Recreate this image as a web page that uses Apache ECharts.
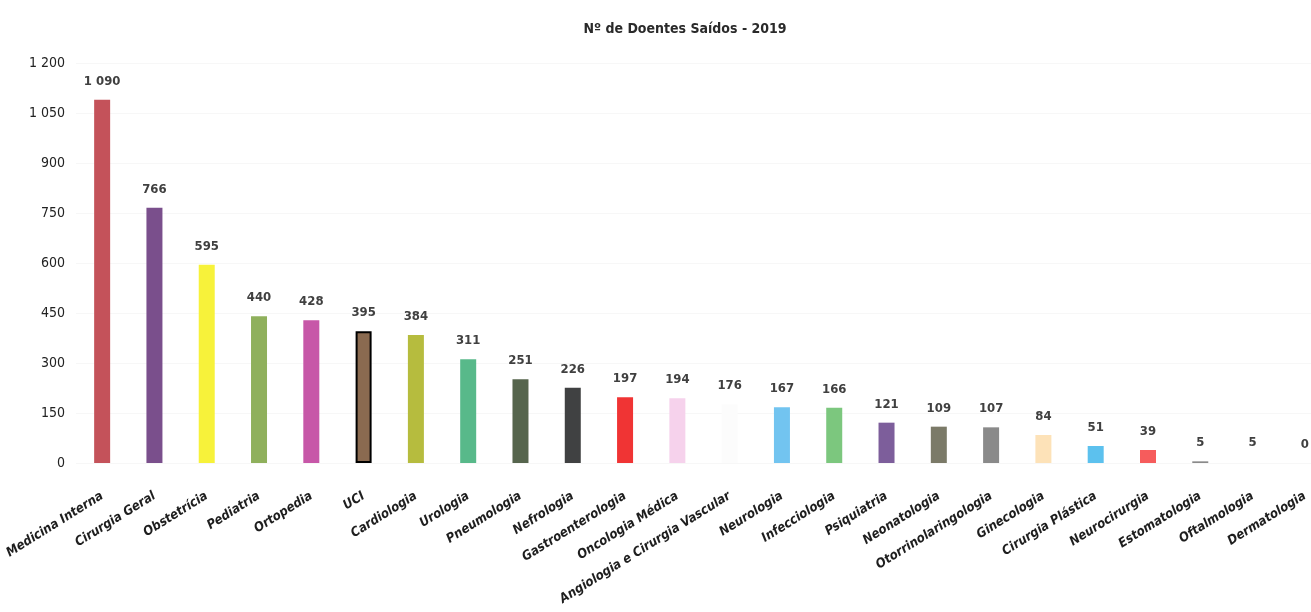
<!DOCTYPE html>
<html>
<head>
<meta charset="utf-8">
<script src="https://cdn.jsdelivr.net/npm/echarts@6/dist/echarts.min.js"></script>
<style>
  html, body { margin: 0; padding: 0; background: #fff; overflow: hidden; }
  #chart { width: 1311px; height: 612px; }
</style>
</head>
<body>
<div id="chart"></div>
<script>
const categories = [
  'Medicina Interna', 'Cirurgia Geral', 'Obstetrícia', 'Pediatria', 'Ortopedia', 'UCI',
  'Cardiologia', 'Urologia', 'Pneumologia', 'Nefrologia', 'Gastroenterologia', 'Oncologia Médica',
  'Angiologia e Cirurgia Vascular', 'Neurologia', 'Infecciologia', 'Psiquiatria', 'Neonatologia',
  'Otorrinolaringologia', 'Ginecologia', 'Cirurgia Plástica', 'Neurocirurgia', 'Estomatologia',
  'Oftalmologia', 'Dermatologia'
];
const values = [1090, 766, 595, 440, 428, 395, 384, 311, 251, 226, 197, 194, 176, 167, 166, 121, 109, 107, 84, 51, 39, 5, 5, 0];
const barColors = [
  '#c4525a', '#7a4f8c', '#f7f23a', '#8fb05c', '#c757a8', '#8a6a50',
  '#b6bc3e', '#58b98a', '#56654d', '#404142', '#f03434', '#f6d2ec',
  '#fcfcfc', '#72c4f0', '#7cc77e', '#7d5e9b', '#7b7a68',
  '#8a8a8a', '#fde2b8', '#5cc1ee', '#f65c5c', '#8a8a8a',
  '#ffffff', '#ffffff'
];
const yTicks = [0, 150, 300, 450, 600, 750, 900, 1050, 1200];

const fontFamily = '"Liberation Sans Narrow", "DejaVu Sans Condensed", Arial, sans-serif';
const fmt = (v) => String(v).replace(/\B(?=(\d{3})+(?!\d))/g, ' ');

const chart = echarts.init(document.getElementById('chart'));

chart.setOption({
  backgroundColor: '#fff',
  title: {
    text: 'Nº de Doentes Saídos - 2019',
    left: 680,
    textAlign: 'center',
    top: 17,
    textStyle: { fontFamily, fontSize: 14, fontWeight: 'bold', color: '#2a2a2a' }
  },
  grid: {
    left: 76, top: 63, width: 1255, height: 400,
    containLabel: false, outerBoundsMode: 'none'
  },
  xAxis: {
    type: 'category',
    data: categories,
    axisLine: { show: false },
    axisTick: { show: false },
    axisLabel: {
      interval: 0,
      rotate: 32,
      margin: 32,
      fontFamily,
      fontStyle: 'italic',
      fontWeight: 'bold',
      fontSize: 13,
      color: '#1e1e1e'
    }
  },
  yAxis: {
    type: 'value',
    min: yTicks[0],
    max: yTicks[yTicks.length - 1],
    interval: 150,
    axisLine: { show: false },
    axisTick: { show: false },
    splitLine: { lineStyle: { color: '#f7f7f7' } },
    axisLabel: {
      margin: 11,
      fontFamily,
      fontSize: 14,
      color: '#222',
      formatter: fmt
    }
  },
  series: [{
    type: 'bar',
    barWidth: 16,
    data: values.map((v, i) => ({
      value: v,
      itemStyle: i === 5
        ? { color: barColors[i], borderColor: '#000', borderWidth: 2 }
        : { color: barColors[i] }
    })),
    label: {
      show: true,
      position: 'top',
      distance: 12,
      fontFamily,
      fontSize: 13,
      fontWeight: 'bold',
      color: '#404040',
      formatter: (p) => fmt(p.value)
    }
  }]
});
</script>
</body>
</html>
